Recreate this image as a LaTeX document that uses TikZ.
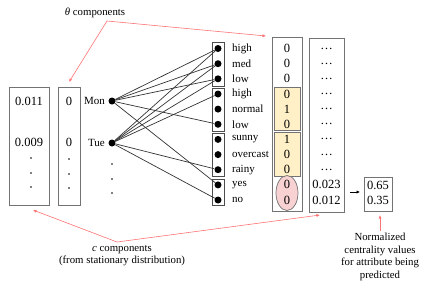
\documentclass[tikz,border=0pt]{standalone}
\usepackage{fontspec}
\setmainfont{Liberation Serif}
\usetikzlibrary{arrows.meta,shapes.geometric}
\definecolor{ylw}{RGB}{255,240,200}
\definecolor{pnk}{RGB}{248,210,210}
\begin{document}
\begin{tikzpicture}[x=1pt,y=-1pt,
  dot/.style={circle,fill=black,inner sep=0pt,minimum size=7pt},
  sdot/.style={circle,fill=black,inner sep=0pt,minimum size=1.6pt},
  box/.style={draw=black!55,line width=0.7pt,inner sep=0pt},
  grp/.style={draw=black!70,line width=0.8pt,inner sep=0pt,minimum width=12pt},
  edge/.style={draw=black!80,line width=0.7pt},
  redarr/.style={draw=red!55,line width=0.6pt,-{Latex[length=3.5pt,width=3pt]}},
  lbl/.style={font=\fontsize{11}{12}\selectfont,anchor=west,inner sep=0pt},
  val/.style={font=\fontsize{12.5}{13}\selectfont,inner sep=0pt},
  note/.style={font=\fontsize{10.8}{12.7}\selectfont,inner sep=0pt,align=center}]
\useasboundingbox (0,0) rectangle (423,287);
% left boxes
\node[box,minimum width=40pt,minimum height=118pt] (boxA) at (29,146) {};
\node[box,minimum width=22pt,minimum height=118pt] (boxB) at (69,146) {};
\node[val] (a1) at (29,101) {0.011};
\node[val] (a2) at (29,142) {0.009};
\node[val] (b1) at (69,101) {0};
\node[val] (b2) at (69,142) {0};
\foreach \i/\y in {1/158,2/173,3/187}{
  \node[sdot] (ad\i) at (31,\y) {};
  \node[sdot] (bd\i) at (69,\y+1) {};
  \node[sdot] (td\i) at (112,\y+6) {};
}
% day nodes
\node[dot] (mon) at (112,101) {};
\node[dot] (tue) at (112,143) {};
\node[lbl,anchor=east] (monl) at (105,101) {Mon};
\node[lbl,anchor=east] (tuel) at (105,143) {Tue};
% group boxes
\node[grp,minimum height=44pt] (g1) at (218,64) {};
\node[grp,minimum height=43pt] (g2) at (218,109.5) {};
\node[grp,minimum height=43pt] (g3) at (218,154.5) {};
\node[grp,minimum height=26pt] (g4) at (218,192) {};
% value boxes
\node[box,minimum width=30pt,minimum height=174pt] (boxC) at (287,124) {};
\node[box,minimum width=35pt,minimum height=174pt] (boxD) at (326.5,125) {};
\node[draw=black!55,fill=ylw,line width=0.7pt,minimum width=26pt,minimum height=43pt,inner sep=0pt] (y1) at (287,109) {};
\node[draw=black!55,fill=ylw,line width=0.7pt,minimum width=26pt,minimum height=44pt,inner sep=0pt] (y2) at (287,154) {};
\node[ellipse,draw=black!55,fill=pnk,line width=0.7pt,minimum width=22pt,minimum height=35pt,inner sep=0pt] (pk) at (287,193) {};
% attribute value dots, labels, values
\foreach \i/\y/\t/\v/\w in {1/48.5/high/0/\dots,2/63.7/med/0/\dots,3/78.8/low/0/\dots,
  4/94/high/0/\dots,5/109.1/normal/1/\dots,6/124.3/low/0/\dots,
  7/139.4/sunny/1/\dots,8/154.6/overcast/0/\dots,9/169.7/rainy/0/\dots,
  10/184.9/yes/0/0.023,11/200/no/0/0.012}{
  \node[dot] (d\i) at (218,\y) {};
  \node[lbl] (l\i) at (232,\y) {\t};
  \node[val] (c\i) at (287,\y) {\v};
  \node[val] (e\i) at (326.5,\y) {\w};
}
% edges
\foreach \j in {1,2,3,6,10}{\draw[edge] (mon) -- (d\j);}
\foreach \j in {1,2,3,4,9,11}{\draw[edge] (tue) -- (d\j);}
% output
\node[box,minimum width=28pt,minimum height=34pt] (boxE) at (378,194) {};
\node[val] (f1) at (378,185) {0.65};
\node[val] (f2) at (378,200) {0.35};
\coordinate (arS) at (350,192);
\coordinate (arE) at (360,192);
\draw[line width=0.8pt,-{Latex[length=3.5pt,width=3.5pt]}] (arS) -- (arE);
% annotations
\node[note] (theta) at (95,13) {\textit{θ} components};
\coordinate (tapex) at (107,21);
\coordinate (tB) at (69,82);
\coordinate (tC) at (266,36);
\draw[redarr] (tapex) -- (tB);
\draw[redarr] (tapex) -- (tC);
\node[note] (cc) at (122,255.5) {\textit{c} components\\(from stationary distribution)};
\coordinate (capex) at (117,242);
\coordinate (cA) at (33,210);
\coordinate (cD) at (320,215);
\draw[redarr] (capex) -- (cA);
\draw[redarr] (capex) -- (cD);
\node[note] (norm) at (380,257) {Normalized\\centrality values\\for attribute being\\predicted};
\coordinate (nS) at (380,231);
\coordinate (nE) at (380,215);
\draw[redarr] (nS) -- (nE);
\end{tikzpicture}
\end{document}
